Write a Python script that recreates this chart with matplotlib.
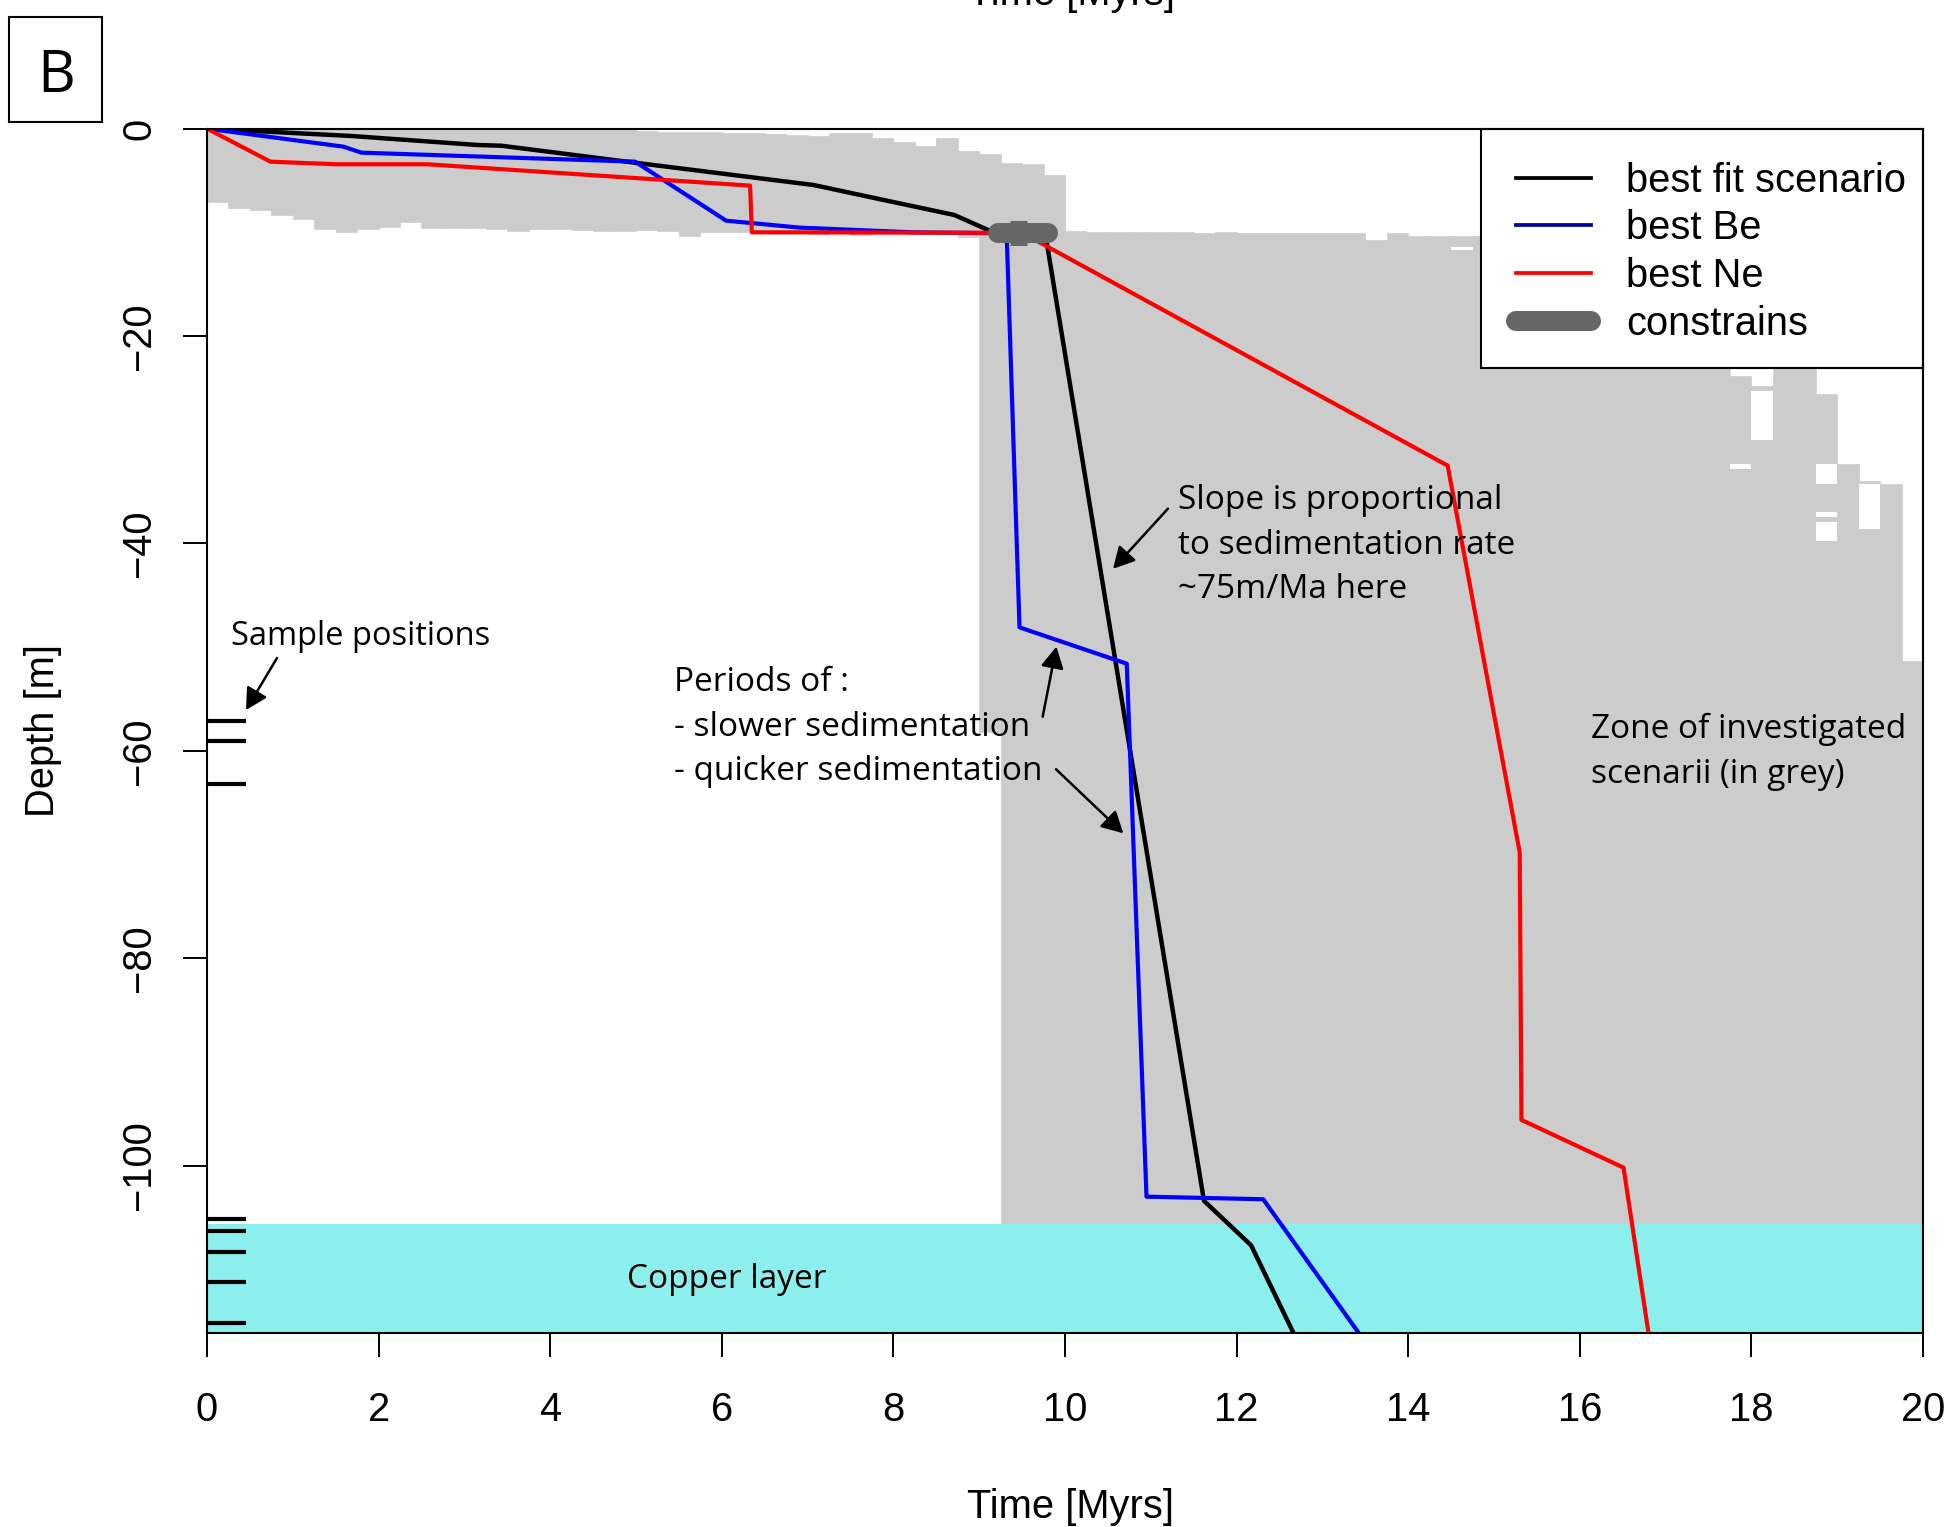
import matplotlib.pyplot as plt
from matplotlib.lines import Line2D
from matplotlib.patches import Rectangle
import numpy as np

plt.rcParams['font.family'] = ['Liberation Sans', 'DejaVu Sans']
NOTE_FONT = 'Open Sans'

# envelope of investigated scenarii, 0.25 Myr columns from 0 to 20 Myr
col_width = 0.25
zone_top = ([0.0] * 20 +
            [-0.2, -0.3, -0.3, -0.3, -0.4, -0.4, -0.5, -0.6, -0.7, -0.4,
             -0.4, -0.9, -1.25, -1.7, -0.95, -2.2, -2.45, -3.3, -3.45, -4.5,
             -9.85, -10.0, -10.0, -10.0, -10.0, -10.0, -10.1, -10.0, -10.1, -10.1,
             -10.1, -10.1, -10.1, -10.1, -10.7, -10.1, -10.4, -10.4, -10.4, -10.4] +
            [-10.4] * 11 +
            [-23.9, -24.8, -10.4, -10.4, -25.6, -32.3, -34.0, -34.3, -51.3])
zone_bot = ([-7.05, -7.7, -7.85, -8.35, -8.75, -9.7, -9.95, -9.7, -9.45, -9.0,
             -9.6, -9.6, -9.55, -9.7, -9.9, -9.7, -9.7, -9.75, -9.9, -9.9,
             -9.8, -9.9, -10.4, -9.95, -9.95, -10.0, -10.0, -10.0, -10.2, -10.0,
             -10.3, -10.0, -10.0, -10.0, -9.8, -10.5, -58.2] +
            [-116.1] * 43)
# (column, top, bottom) cells never crossed by a scenario
zone_gaps = [(58, -11.4, -11.7), (71, -32.3, -32.8), (72, -25.3, -30.0),
             (75, -32.3, -34.3), (75, -37.0, -37.5), (75, -37.9, -39.8),
             (77, -34.3, -38.6)]

best_fit_t = [0, 1.68, 3.15, 3.43, 4.95, 7.07, 7.89, 8.71, 9.11, 9.77, 11.62, 12.17, 12.66]
best_fit_d = [0, -0.71, -1.58, -1.65, -3.25, -5.44, -6.89, -8.33, -9.8, -10.1, -103.4, -107.7, -116.1]

best_be_t = [0, 1.59, 1.80, 4.99, 6.05, 6.91, 8.22, 9.32, 9.47, 10.72, 10.95, 12.31, 13.42]
best_be_d = [0, -1.74, -2.32, -3.19, -8.88, -9.55, -10.0, -10.1, -48.1, -51.6, -103.0, -103.25, -116.1]

best_ne_t = [0, 0.74, 1.51, 2.57, 6.33, 6.35, 9.5, 14.46, 15.30, 15.32, 16.51, 16.80]
best_ne_d = [0, -3.19, -3.44, -3.44, -5.5, -10.0, -10.05, -32.5, -69.8, -95.6, -100.2, -116.1]

constraint_t = [9.22, 9.80]
constraint_d = [-10.1, -10.1]
constraint_mid_t = [9.36, 9.56]

sample_depths = [-57.1, -59.1, -63.2, -105.2, -106.3, -108.3, -111.2, -115.2]
copper_top = -105.6
depth_min = -116.1

GREY = '#CCCCCC'
DARK = '#666666'

fig = plt.figure(figsize=(19.57, 15.27), dpi=100)
ax = fig.add_axes([0.10577, 0.12737, 0.87685, 0.78841])

col_left = np.arange(len(zone_top)) * col_width
top = np.array(zone_top)
bot = np.array(zone_bot)
ax.bar(col_left, top - bot, width=col_width, bottom=bot, align='edge',
       color=GREY, edgecolor=GREY, linewidth=0.5, zorder=1)
for c, g_top, g_bot in zone_gaps:
    ax.bar(col_left[c], g_top - g_bot, width=col_width, bottom=g_bot, align='edge',
           color='white', linewidth=0, zorder=1.1)

# copper layer
ax.axhspan(depth_min, copper_top, color='#8DEEEE', lw=0, zorder=2)

ax.plot(best_fit_t, best_fit_d, color='black', lw=3.2, zorder=3)
ax.plot(best_be_t, best_be_d, color='blue', lw=3.0, zorder=3)
ax.plot(best_ne_t, best_ne_d, color='red', lw=3.0, zorder=3)

ax.plot(constraint_t, constraint_d, color=DARK, lw=14.4, solid_capstyle='round', zorder=4)
ax.plot(constraint_mid_t, constraint_d, color=DARK, lw=18, solid_capstyle='butt', zorder=4)

for d in sample_depths:
    ax.plot([0, 0.45], [d, d], color='black', lw=3, solid_capstyle='butt', zorder=5)

ax.set_xlim(0, 20)
ax.set_ylim(depth_min, 0)
ax.set_xticks(np.arange(0, 21, 2))
ax.set_yticks(np.arange(0, -101, -20))
ax.tick_params(direction='out', length=17, width=1.4, labelsize=28.7)
ax.tick_params(axis='x', pad=25)
ax.tick_params(axis='y', pad=18, labelrotation=90)
for lab in ax.get_yticklabels():
    lab.set_va('center')
for s in ax.spines.values():
    s.set_linewidth(1.5)
    s.set_zorder(7)

ax.set_xlabel('Time [Myrs]', fontsize=28.7)
ax.xaxis.set_label_coords(0.5035, -0.145)
ax.xaxis.label.set_va('center')
ax.set_ylabel('Depth [m]', fontsize=28.7)
ax.yaxis.set_label_coords(-0.0955, 0.5)
ax.yaxis.label.set_va('center')

# legend: box drawn separately so the inner padding can be uneven
ax.add_patch(Rectangle((0.7427, 0.801), 0.2573, 0.199, transform=ax.transAxes,
                       facecolor='white', edgecolor='black', lw=1.5, zorder=6,
                       clip_on=False))
handles = [Line2D([], [], color='black', lw=2.7),
           Line2D([], [], color='#0000A0', lw=2.7),
           Line2D([], [], color='red', lw=2.7),
           Line2D([], [], color=DARK, lw=14.4, solid_capstyle='round')]
labels = ['best fit scenario', 'best Be', 'best Ne', 'constrains']
leg = ax.legend(handles, labels, loc='upper left', bbox_to_anchor=(0.7631, 0.9724),
                borderaxespad=0, fontsize=28.7, frameon=False,
                handlelength=1.875, handletextpad=0.88,
                labelspacing=0.24, borderpad=0)
leg.set_zorder(6.5)

# annotations
arrow = dict(arrowstyle='-|>,head_length=0.65,head_width=0.35', color='black',
             lw=1.8, shrinkA=0, shrinkB=0, mutation_scale=20)
ax.text(0.28, -49.0, 'Sample positions', family=NOTE_FONT, fontsize=23.5, va='center')
ax.annotate('', xy=(0.455, -56.07), xytext=(0.816, -51.05), arrowprops=arrow)

for y, line in zip([-53.43, -57.77, -61.96],
                   ['Periods of :', '- slower sedimentation', '- quicker sedimentation']):
    ax.text(5.44, y, line, family=NOTE_FONT, fontsize=24, va='center', zorder=5)
ax.annotate('', xy=(9.90, -49.96), xytext=(9.74, -56.71), arrowprops=arrow)
ax.annotate('', xy=(10.68, -67.96), xytext=(9.895, -61.78), arrowprops=arrow)

for y, line in zip([-35.88, -40.17, -44.41],
                   ['Slope is proportional', 'to sedimentation rate', '~75m/Ma here']):
    ax.text(11.32, y, line, family=NOTE_FONT, fontsize=24, va='center', zorder=5)
ax.annotate('', xy=(10.56, -42.45), xytext=(11.2, -36.65), arrowprops=arrow)

for y, line in zip([-57.98, -62.3], ['Zone of investigated', 'scenarii (in grey)']):
    ax.text(16.13, y, line, family=NOTE_FONT, fontsize=24, va='center', zorder=5)

ax.text(4.89, -110.95, 'Copper layer', family=NOTE_FONT, fontsize=24, va='center', zorder=5)

# panel tag and the axis title of the panel above
fig.patches.append(Rectangle((8.7 / 1957, 1 - 122 / 1527), 93.3 / 1957, 104.5 / 1527,
                             transform=fig.transFigure, fill=False, lw=1.5, ec='black'))
fig.text(56 / 1957, 1 - 91.7 / 1527, 'B', family=NOTE_FONT, fontsize=42,
         ha='center', va='baseline')
fig.text(1071 / 1957, 1 - 5 / 1527, 'Time [Myrs]', fontsize=28.7,
         ha='center', va='baseline')

fig.savefig('out.png', dpi=100)
